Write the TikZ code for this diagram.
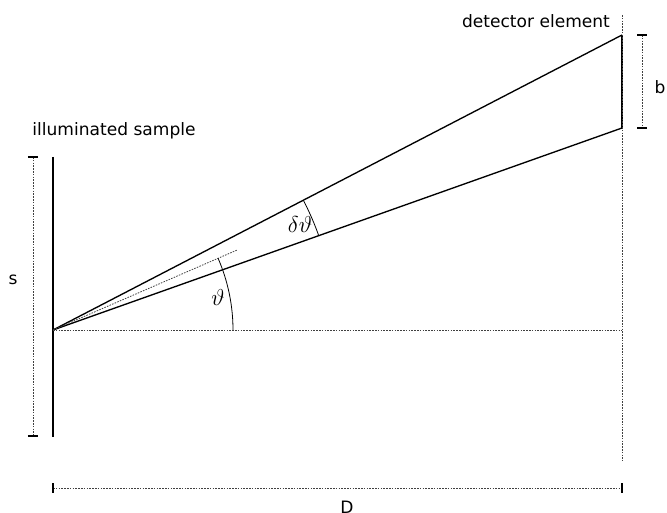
\documentclass[tikz,border=0pt]{standalone}
\usepackage{fontspec}
\setmainfont{DejaVu Sans}

\begin{document}
\begin{tikzpicture}[x=0.75pt,y=0.75pt,
  every node/.style={font=\fontsize{12.8}{15}\selectfont,inner sep=0pt},
  greek/.style={font=\fontsize{17}{20}\selectfont},
  ray/.style={draw=black,line width=1pt},
  plate/.style={draw=black,line width=1.8pt},
  guide/.style={draw=black!75,line width=0.6pt,dash pattern=on 1.2pt off 0.9pt},
  tick/.style={draw=black,line width=0.9pt}]
\useasboundingbox (-53,-183) rectangle (614,330);
\coordinate (O) at (0,0);
\coordinate (sTop) at (0,173);
\coordinate (sBot) at (0,-107);
\coordinate (dTop) at (569,295);
\coordinate (dBot) at (569,202);
\coordinate (hEnd) at (569,0);
\coordinate (vTop) at (569,315);
\coordinate (vBot) at (569,-131);
\coordinate (bisect) at (23.48:201);
\coordinate (s1) at (-20,173);
\coordinate (s2) at (-20,-106);
\coordinate (b1) at (589,295);
\coordinate (b2) at (589,202);
\coordinate (D1) at (0,-158);
\coordinate (D2) at (569,-158);
\node (sample) [anchor=base] at (61,194) {illuminated sample};
\node (detector) [anchor=base] at (483,302) {detector element};
\node (slabel) at (-40,50) {s};
\node (blabel) at (607,243) {b};
\node (Dlabel) at (294,-177) {D};
\node (theta) [greek] at (165,32) {$\vartheta$};
\node (dtheta) [greek] at (247,105) {$\delta\vartheta$};
% sample, detector and rays
\draw[plate] (sTop) -- (sBot);
\draw[plate] (dTop) -- (dBot);
\draw[ray] (O) -- (dTop);
\draw[ray] (O) -- (dBot);
\draw[guide] (O) -- (bisect);
\draw[guide] (O) -- (hEnd);
\draw[guide] (vTop) -- (vBot);
% angles
\draw[ray,line width=0.6pt] (O) ++(180,0) arc[start angle=0,end angle=23.48,radius=180];
\draw[ray,line width=0.6pt] (O) ++(19.55:282) arc[start angle=19.55,end angle=27.41,radius=282];
% dimensions
\draw[guide] (s1) -- (s2);
\draw[tick] (s1) ++(-5,0) -- ++(10,0);
\draw[tick] (s2) ++(-5,0) -- ++(10,0);
\draw[guide] (b1) -- (b2);
\draw[tick] (b1) ++(-5,0) -- ++(10,0);
\draw[tick] (b2) ++(-5,0) -- ++(10,0);
\draw[guide] (D1) -- (D2);
\draw[tick] (D1) ++(0,-5) -- ++(0,10);
\draw[tick] (D2) ++(0,-5) -- ++(0,10);
\end{tikzpicture}
\end{document}
